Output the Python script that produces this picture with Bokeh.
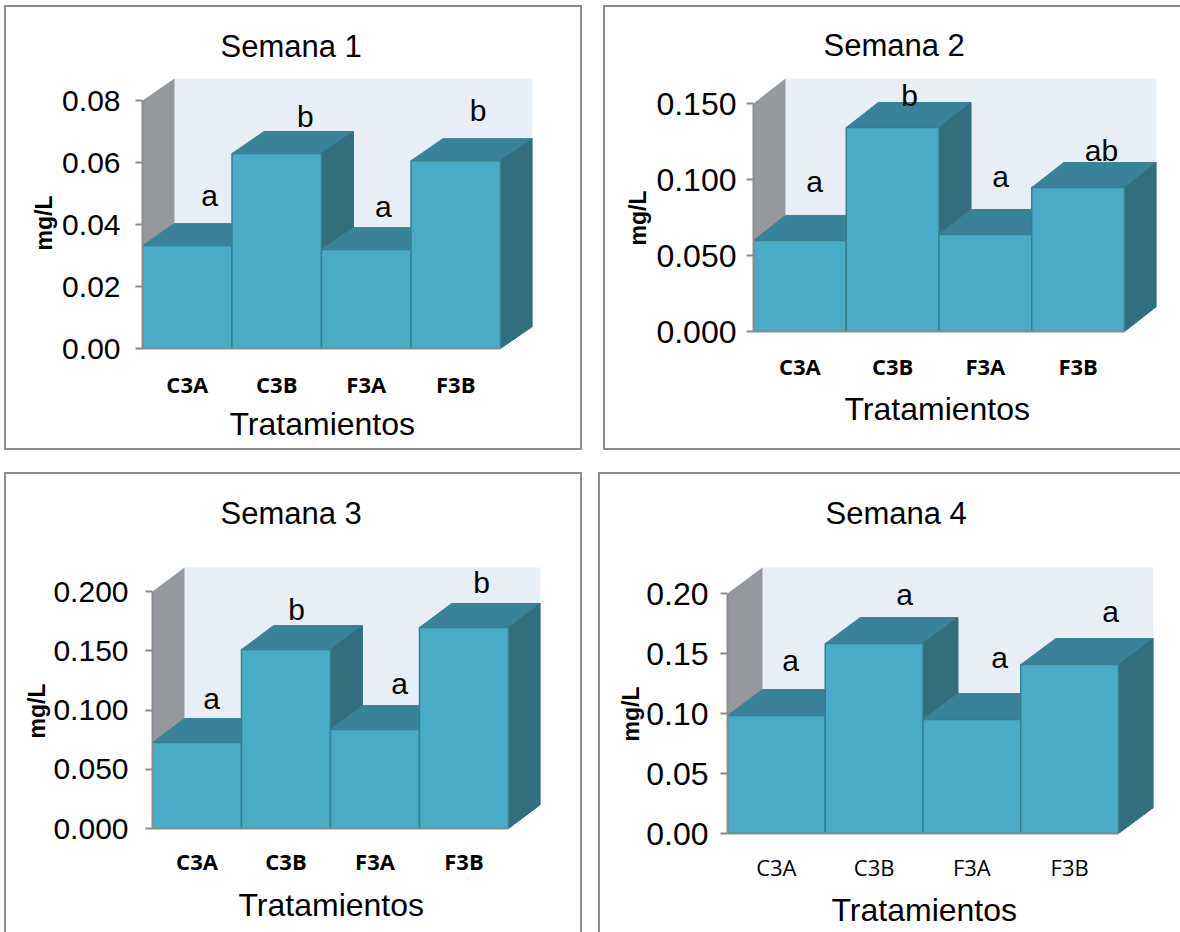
from bokeh.plotting import figure
from bokeh.layouts import column, row
from bokeh.models import Range1d, FixedTicker, NumeralTickFormatter, Title
from bokeh.core.properties import value
from bokeh.embed import file_html
from bokeh.resources import INLINE

categories = ["C3A", "C3B", "F3A", "F3B"]

titles = ["Semana 1", "Semana 2", "Semana 3", "Semana 4"]
x_title = "Tratamientos"
y_title = "mg/L"
values_1 = [0.0332, 0.0629, 0.0319, 0.0606]
values_2 = [0.0599, 0.1342, 0.0638, 0.0947]
values_3 = [0.0726, 0.1510, 0.0835, 0.1696]
values_4 = [0.0983, 0.1583, 0.0950, 0.1408]

ticks_1 = [0.00, 0.02, 0.04, 0.06, 0.08]
ticks_2 = [0.000, 0.050, 0.100, 0.150]
ticks_3 = [0.000, 0.050, 0.100, 0.150, 0.200]
ticks_4 = [0.00, 0.05, 0.10, 0.15, 0.20]

letters_1 = ["a", "b", "a", "b"]
letters_2 = ["a", "b", "a", "ab"]
letters_3 = ["a", "b", "a", "b"]
letters_4 = ["a", "a", "a", "a"]

letter_x_1 = [0.749, 1.82, 2.69, 3.75]
letter_y_1 = [0.0494, 0.0748, 0.0458, 0.0768]
letter_x_2 = [0.658, 1.682, 2.663, 3.752]
letter_y_2 = [0.0987, 0.1553, 0.1020, 0.1191]
letter_x_3 = [0.663, 1.618, 2.775, 3.697]
letter_y_3 = [0.1097, 0.1848, 0.1224, 0.2076]
letter_x_4 = [0.645, 1.811, 2.783, 3.920]
letter_y_4 = [0.1442, 0.1992, 0.1467, 0.1850]

FRONT = "#4AABC7"
TOP = "#3A8299"
SIDE = "#326E7E"
EDGE = "#35808F"
WALL = "#95989C"
BACK = "#E8EEF6"
GREY = "#8C8C8C"
SANS = "Liberation Sans"
B = 2


def panel(title, vals, ticks, fmt, letters, lx, ly, box, axis_x, zero_y, ymax_y,
          bar_right, back_right, back_top, frame_top, title_left, tick_standoff,
          tick_size, xtick_standoff, xtitle_left, xtitle_standoff, ytitle_bottom,
          ytitle_standoff, margin, bold=True, open_right=False, open_bottom=False):
    bl, bt, br, bb = box
    # inner box of the figure, inside the wrapper's border
    il, it = bl + B, bt + B
    ir = br if open_right else br - B
    ib = bb if open_bottom else bb - B
    w_px = bar_right - axis_x
    ymax = ticks[-1]
    unit_x = 4 / w_px
    unit_y = ymax / (zero_y - ymax_y)
    dx = (back_right - bar_right) * unit_x
    dy = (ymax_y - back_top) * unit_y
    p = figure(
        frame_width=back_right - axis_x, frame_height=zero_y - frame_top,
        x_range=Range1d(0, 4 + dx), y_range=Range1d(0, (zero_y - frame_top) * unit_y),
        min_border_left=axis_x - il, min_border_right=ir - back_right,
        min_border_top=frame_top - it, min_border_bottom=ib - zero_y,
        toolbar_location=None, output_backend="svg", margin=0,
        title=title,
    )
    p.outline_line_color = None
    p.grid.visible = False
    p.title.align = "left"
    p.title.vertical_align = "top"
    p.title.offset = title_left - axis_x
    p.title.text_font = SANS
    p.title.text_font_style = "normal"
    p.title.text_font_size = "31px"
    p.title.text_color = "black"
    p.title.standoff = 22

    # back and side walls
    p.patch([dx, 4 + dx, 4 + dx, dx], [dy, dy, ymax + dy, ymax + dy],
            fill_color=BACK, line_color=None)
    p.patch([0, dx, dx, 0], [0, dy, ymax + dy, ymax],
            fill_color=WALL, line_color=None)

    # bars, painted from left to right
    for i, v in enumerate(vals):
        p.patch([i, i + dx, i + 1 + dx, i + 1], [v, v + dy, v + dy, v],
                fill_color=TOP, line_color=TOP, line_width=1)
        p.patch([i + 1, i + 1 + dx, i + 1 + dx, i + 1], [0, dy, v + dy, v],
                fill_color=SIDE, line_color=SIDE, line_width=1)
        p.patch([i, i + 1, i + 1, i], [0, 0, v, v],
                fill_color=FRONT, line_color=EDGE, line_width=1.5)

    p.text(lx, ly, text=letters, text_font=value(SANS), text_font_size="30px",
           text_align="center", text_baseline="middle", text_color="black")

    ya = p.yaxis[0]
    ya.ticker = FixedTicker(ticks=ticks)
    ya.formatter = NumeralTickFormatter(format=fmt)
    ya.bounds = (0, ymax)
    ya.axis_line_color = GREY
    ya.axis_line_width = 2
    ya.major_tick_line_color = GREY
    ya.major_tick_line_width = 2
    ya.major_tick_out = 7
    ya.major_tick_in = 0
    ya.minor_tick_line_color = None
    ya.major_label_text_font = SANS
    ya.major_label_text_font_size = tick_size
    ya.major_label_text_color = "black"
    ya.major_label_standoff = tick_standoff

    xa = p.xaxis[0]
    xa.ticker = FixedTicker(ticks=[i + 0.5 for i in range(len(categories))])
    xa.major_label_overrides = {i + 0.5: c for i, c in enumerate(categories)}
    xa.bounds = (0, 4)
    xa.axis_line_color = GREY
    xa.axis_line_width = 2
    xa.major_tick_line_color = None
    xa.minor_tick_line_color = None
    xa.major_label_text_font = "Open Sans"
    xa.major_label_text_font_style = "bold" if bold else "normal"
    xa.major_label_text_font_size = "22px"
    xa.major_label_text_color = "black"
    xa.major_label_standoff = xtick_standoff

    # axis titles sit off the frame's centre, so they are titles with an offset
    p.add_layout(Title(text=x_title, align="left", offset=xtitle_left - axis_x,
                       text_font=SANS, text_font_style="normal", text_font_size="32px",
                       text_color="black", standoff=xtitle_standoff), "below")
    p.add_layout(Title(text=y_title, align="left", offset=zero_y - ytitle_bottom,
                       text_font=SANS, text_font_style="bold", text_font_size="23px",
                       text_color="black", standoff=ytitle_standoff), "left")

    widths = f"{B}px {0 if open_right else B}px {0 if open_bottom else B}px {B}px"
    return column(p, margin=margin, spacing=0,
                  styles={"border-style": "solid", "border-color": GREY, "border-width": widths})


p1 = panel(titles[0], values_1, ticks_1, "0.00", letters_1, letter_x_1, letter_y_1,
           (4, 5, 582, 450), 142, 348, 100, 500, 532, 78, 76, 220, 15, "30px",
           14, 229, 4, 250, 6, (5, 0, 0, 4))
p2 = panel(titles[1], values_2, ticks_2, "0.000", letters_2, letter_x_2, letter_y_2,
           (603, 5, 1180, 450), 753, 331, 103, 1124, 1156, 78, 75, 823, 10, "32px",
           13, 844, 11, 245, 5, (5, 0, 0, 21), open_right=True)
p3 = panel(titles[2], values_3, ticks_3, "0.000", letters_3, letter_x_3, letter_y_3,
           (4, 472, 582, 932), 152, 828, 591, 508, 540, 567, 543, 220, 17, "30px",
           11, 238, 12, 738, 2, (22, 0, 0, 4), open_bottom=True)
p4 = panel(titles[3], values_4, ticks_4, "0.00", letters_4, letter_x_4, letter_y_4,
           (598, 472, 1180, 932), 727, 833, 593, 1118, 1153, 567, 543, 825, 12, "32px",
           12, 831, 11, 741, 0, (22, 0, 0, 16), bold=False, open_right=True, open_bottom=True)

root = column(row(p1, p2), row(p3, p4))
open("out.html", "w").write(file_html(root, INLINE))
